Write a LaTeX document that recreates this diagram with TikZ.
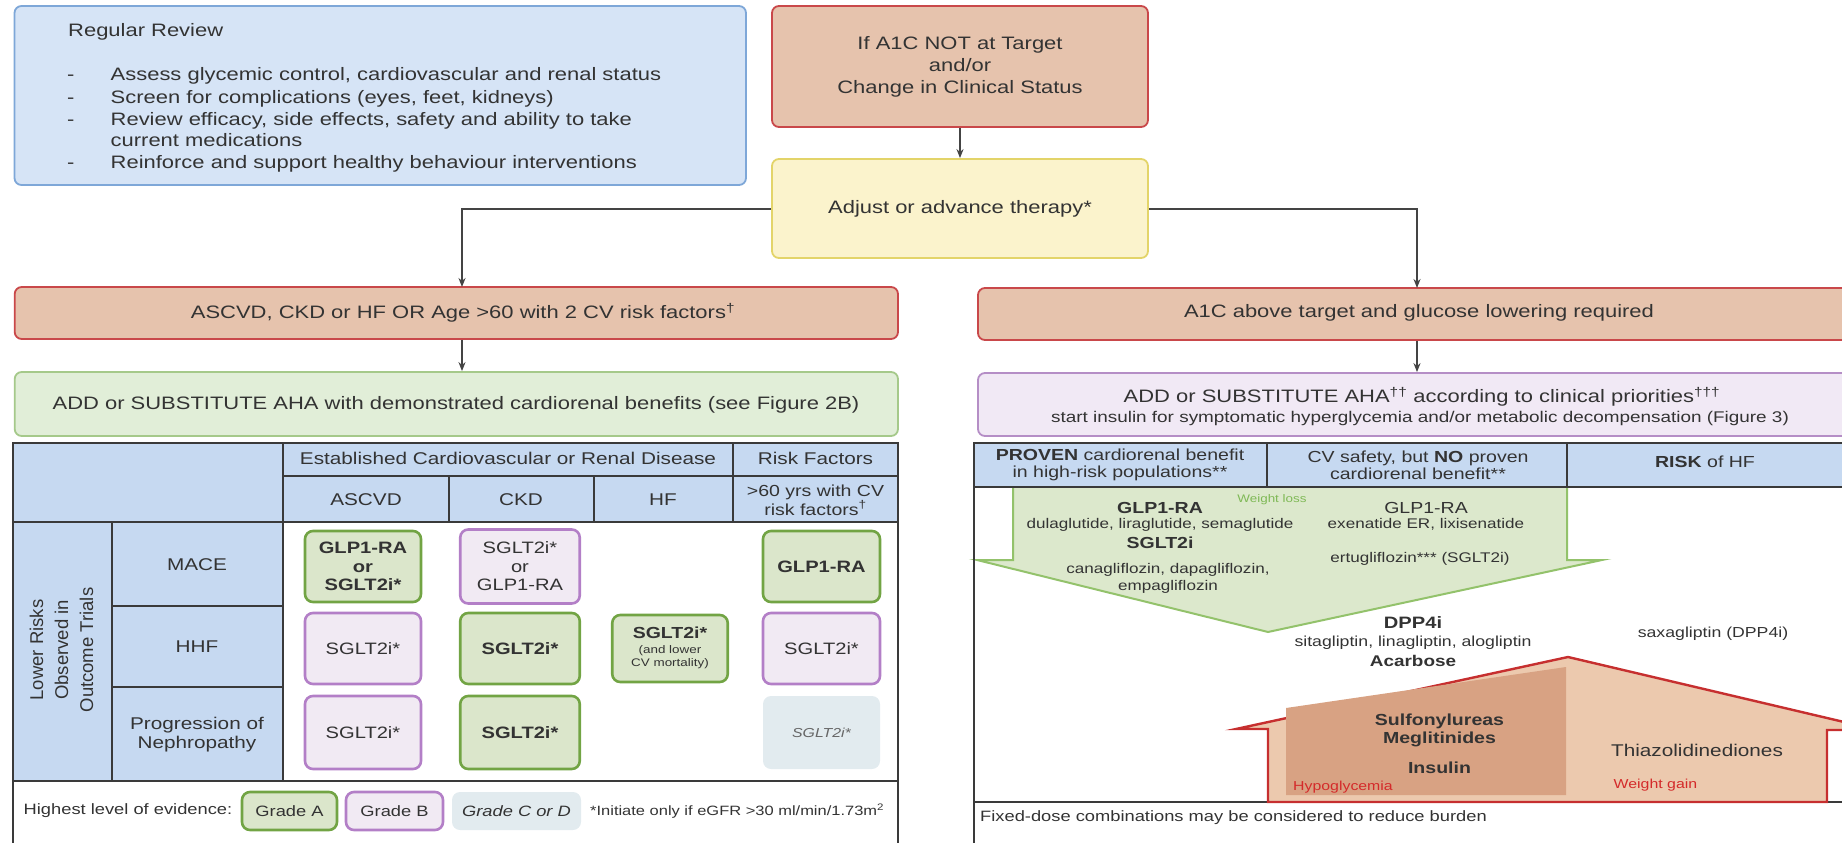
\documentclass[tikz,border=0pt]{standalone}
\usepackage{fontspec}
\setmainfont{Liberation Sans}[FakeStretch=1.22]
\newfontfamily\plainsans{Liberation Sans}
\usetikzlibrary{arrows.meta,calc}
\newcommand\myfs[2]{\fontsize{#1}{#2}\selectfont}
\definecolor{txt}{HTML}{333333}
\definecolor{bluefill}{HTML}{D6E4F6}
\definecolor{blueline}{HTML}{7EA7D8}
\definecolor{redfill}{HTML}{E6C3AD}
\definecolor{redline}{HTML}{C9484A}
\definecolor{yellowfill}{HTML}{FBF3CC}
\definecolor{yellowline}{HTML}{E3D469}
\definecolor{greenfill}{HTML}{E1EED8}
\definecolor{greenline}{HTML}{A5C98A}
\definecolor{purplefill}{HTML}{F1E9F5}
\definecolor{purpleline}{HTML}{B58EC6}
\definecolor{hdr}{HTML}{C6D9F1}
\definecolor{tablec}{HTML}{3A3A3A}
\definecolor{gAfill}{HTML}{DBE6CB}
\definecolor{gAline}{HTML}{72A444}
\definecolor{gBfill}{HTML}{F1EAF3}
\definecolor{gBline}{HTML}{B37FC7}
\definecolor{gCfill}{HTML}{E2EBEF}
\definecolor{arrfill}{HTML}{DCE8CC}
\definecolor{arrline}{HTML}{93C26B}
\definecolor{houseline}{HTML}{C62F2F}
\definecolor{housefill}{HTML}{ECC9AE}
\definecolor{housedark}{HTML}{D8A283}
\definecolor{redtext}{HTML}{D42A2A}
\definecolor{wlgreen}{HTML}{7FB956}
\definecolor{connc}{HTML}{444444}
\begin{document}
\begin{tikzpicture}[x=1pt,y=-1pt,
  font=\myfs{18}{22},
  every node/.style={inner sep=0pt, text=txt},
  box/.style={rounded corners=7pt, line width=1.8pt},
  bluebox/.style={box, fill=bluefill, draw=blueline},
  redbox/.style={box, fill=redfill, draw=redline},
  yellowbox/.style={box, fill=yellowfill, draw=yellowline},
  greenbox/.style={box, fill=greenfill, draw=greenline},
  purplebox/.style={box, fill=purplefill, draw=purpleline},
  conn/.style={line width=2pt, draw=connc},
  arr/.style={conn, -{Stealth[length=9pt,width=7pt]}},
  tline/.style={line width=2pt, draw=tablec},
  cell/.style={rounded corners=8pt, align=center, minimum height=71pt, font=\myfs{16.5}{18.5}},
  cA/.style={cell, fill=gAfill, draw=gAline, line width=2.6pt},
  cB/.style={cell, fill=gBfill, draw=gBline, line width=2.6pt},
  cC/.style={cell, fill=gCfill},
  small/.style={font=\myfs{14}{17}},
  item/.style={anchor=base west}
]
\useasboundingbox (0,0) rectangle (1842,843);
\clip (0,0) rectangle (1842,843);

% ---------- top-left review box
\node[bluebox, minimum width=731.5pt, minimum height=179pt] (rr) at (380.25,95.5) {};
\node[item] (rrt) at (68,36.5) {Regular Review};
\node[item] (b1) at (67,81) {-};
\node[item] (b2) at (67,103) {-};
\node[item] (b3) at (67,125) {-};
\node[item] (b4) at (67,168) {-};
\node[item] (i1) at (110.5,81) {Assess glycemic control, cardiovascular and renal status};
\node[item] (i2) at (110.5,103) {Screen for complications (eyes, feet, kidneys)};
\node[item] (i3) at (110.5,125) {Review efficacy, side effects, safety and ability to take};
\node[item] (i3b) at (110.5,146.5) {current medications};
\node[item] (i4) at (110.5,168) {Reinforce and support healthy behaviour interventions};

% ---------- flow boxes
\node[redbox, minimum width=376pt, minimum height=121pt, align=center] (a1c) at (960,66.5) {If A1C NOT at Target\\and/or\\Change in Clinical Status};
\node[yellowbox, minimum width=376pt, minimum height=99pt] (adj) at (960,208.5) {Adjust or advance therapy*};

\node[redbox, minimum width=883.3pt, minimum height=52pt] (ascvd) at (456.35,313) {};
\node (ascvdt) at (463,313) {ASCVD, CKD or HF OR Age >60 with 2 CV risk factors\textsuperscript{†}};
\node[greenbox, minimum width=883.3pt, minimum height=64pt] (grn) at (456.35,404) {};
\node (grnt) at (456,405) {ADD or SUBSTITUTE AHA with demonstrated cardiorenal benefits (see Figure 2B)};

\node[redbox, minimum width=902pt, minimum height=52pt] (a1cab) at (1429,314) {};
\node (a1cabt) at (1419,313) {A1C above target and glucose lowering required};
\node[purplebox, minimum width=902pt, minimum height=63pt] (purp) at (1429,404.5) {};
\node (purpt1) at (1422,397) {ADD or SUBSTITUTE AHA\textsuperscript{††} according to clinical priorities\textsuperscript{†††}};
\node[font=\myfs{15.5}{17}] (purpt2) at (1420,418) {start insulin for symptomatic hyperglycemia and/or metabolic decompensation (Figure 3)};

% ---------- connectors
\coordinate (lj) at (462,287);
\coordinate (rj) at (1417,288);
\draw[arr] (a1c.south) -- (adj.north);
\draw[arr] (adj.west) -| (lj);
\draw[arr] (adj.east) -| (rj);
\draw[arr] (ascvd.south -| lj) -- (grn.north -| lj);
\draw[arr] (a1cab.south -| rj) -- (purp.north -| rj);

% ---------- left table
\fill[hdr] (13,443) rectangle (898,522);
\fill[hdr] (13,522) rectangle (283,781);
\draw[tline] (13,443) rectangle (898,846);
\draw[tline] (283,443) -- (283,781);
\draw[tline] (733,443) -- (733,522);
\draw[tline] (283,476) -- (898,476);
\draw[tline] (449,476) -- (449,522);
\draw[tline] (594,476) -- (594,522);
\draw[tline] (13,522) -- (898,522);
\draw[tline] (111.5,522) -- (111.5,781);
\draw[tline] (111.5,606) -- (283,606);
\draw[tline] (111.5,687) -- (283,687);
\draw[tline] (13,781) -- (898,781);

\node[font=\myfs{17}{20}] (hEst) at (508,458) {Established Cardiovascular or Renal Disease};
\node[font=\myfs{17}{20}] (hRisk) at (815.5,458) {Risk Factors};
\node[font=\myfs{17}{20}] (hAS) at (366,500) {ASCVD};
\node[font=\myfs{17}{20}] (hCKD) at (521,500) {CKD};
\node[font=\myfs{17}{20}] (hHF) at (663,500) {HF};
\node[font=\myfs{16}{19}, align=center] (hRF) at (815.5,500) {>60 yrs with CV\\risk factors\textsuperscript{†}};
\node[font=\myfs{17}{20}] (rM) at (197,565) {MACE};
\node[font=\myfs{17}{20}] (rH) at (197,647) {HHF};
\node[font=\myfs{17}{19}, align=center] (rP) at (197,734.5) {Progression of\\Nephropathy};
\node[rotate=90, align=center, font=\plainsans\myfs{18.5}{25}] (vl) at (61.5,650) {Lower Risks\\Observed in\\Outcome Trials};

\node[cA, minimum width=116pt] (mA) at (363,566.5) {\bfseries GLP1-RA\\\bfseries or\\\bfseries SGLT2i*};
\node[cB, minimum width=119.5pt, minimum height=74pt] (mC) at (520,566.5) {SGLT2i*\\or\\GLP1-RA};
\node[cA, minimum width=117pt] (mR) at (821.5,566.5) {\bfseries GLP1-RA};
\node[cB, minimum width=116pt] (hA) at (363,648.5) {SGLT2i*};
\node[cA, minimum width=119.5pt] (hC) at (520,648.5) {\bfseries SGLT2i*};
\node[cA, minimum width=115.5pt, minimum height=67pt] (hH) at (670,648.5) {};
\node[font=\bfseries\myfs{16}{18}] (hHt1) at (670,633) {SGLT2i*};
\node[font=\myfs{11}{13}] (hHt2) at (670,651) {(and lower};
\node[font=\myfs{11}{13}] (hHt3) at (670,664) {CV mortality)};
\node[cB, minimum width=117pt] (hR) at (821.5,648.5) {SGLT2i*};
\node[cB, minimum width=116pt, minimum height=73pt] (pA) at (363,732.5) {SGLT2i*};
\node[cA, minimum width=119.5pt, minimum height=73pt] (pC) at (520,732.5) {\bfseries SGLT2i*};
\node[cC, minimum width=117pt, minimum height=73pt, font=\itshape\myfs{13}{15}, text=black!60] (pR) at (821.5,732.5) {SGLT2i*};

\node[anchor=west, font=\myfs{15}{18}] (lg) at (23.5,811) {Highest level of evidence:};
\node[cA, minimum width=95pt, minimum height=38pt, font=\myfs{15}{18}] (gA) at (289.5,811) {Grade A};
\node[cB, minimum width=97pt, minimum height=38pt, font=\myfs{15}{18}] (gB) at (394.5,811) {Grade B};
\node[cC, minimum width=129pt, minimum height=38pt, font=\itshape\myfs{15}{18}] (gC) at (516.5,811) {Grade C or D};
\node[anchor=west, font=\myfs{13.5}{16}] (note) at (590,811) {*Initiate only if eGFR >30 ml/min/1.73m\textsuperscript{2}};

% ---------- right table
\fill[hdr] (974,443) rectangle (1850,487);
\fill[arrfill] (1013,487) -- (1013,560) -- (977,560) -- (1268,632) -- (1602,560) -- (1567,560) -- (1567,487) -- cycle;
\draw[line width=2pt, draw=arrline, line join=miter] (1013,487) -- (1013,560) -- (977,560) -- (1268,632) -- (1602,560) -- (1567,560) -- (1567,487);
\draw[tline] (974,846) -- (974,443) -- (1850,443);
\draw[tline] (974,487) -- (1850,487);
\draw[tline] (1267,443) -- (1267,487);
\draw[tline] (1567,443) -- (1567,487);
\draw[tline] (974,802) -- (1850,802);

\node[align=center, font=\myfs{16}{17}] (hP) at (1120,465) {{\bfseries PROVEN} cardiorenal benefit\\in high-risk populations**};
\node[align=center, font=\myfs{16}{17}] (hCV) at (1418,465) {CV safety, but {\bfseries NO} proven\\cardiorenal benefit**};
\node[font=\myfs{16}{17}] (hRK) at (1705,462) {{\bfseries RISK} of HF};

\node[font=\bfseries\myfs{16}{18}] (g1) at (1160,507.5) {GLP1-RA};
\node[font=\myfs{11}{13}, text=wlgreen] (wl) at (1272,500) {Weight loss};
\node[small] (g1d) at (1160,524.5) {dulaglutide, liraglutide, semaglutide};
\node[font=\bfseries\myfs{16}{18}] (s1) at (1160,543) {SGLT2i};
\node[small, align=center] (s1d) at (1168,578.5) {canagliflozin, dapagliflozin,\\empagliflozin};
\node[font=\myfs{16}{18}] (g2) at (1426,507.5) {GLP1-RA};
\node[small] (g2d) at (1426,524.5) {exenatide ER, lixisenatide};
\node[small] (e2) at (1420,558.6) {ertugliflozin*** (SGLT2i)};
\node[font=\bfseries\myfs{16.5}{18}] (dpp) at (1413,623) {DPP4i};
\node[font=\myfs{14.5}{17}] (dppd) at (1413,643) {sitagliptin, linagliptin, alogliptin};
\node[font=\bfseries\myfs{15.5}{18}] (aca) at (1413,661) {Acarbose};
\node[font=\myfs{14.5}{17}] (sax) at (1713,634) {saxagliptin (DPP4i)};

% ---------- house
\filldraw[fill=housefill, draw=houseline, line width=2.4pt, line join=miter] (1236,729) -- (1568,657) -- (1878,730) -- (1827,730) -- (1827,802) -- (1268,802) -- (1268,729) -- cycle;
\fill[housedark] (1286,708) -- (1566,667) -- (1566,795) -- (1286,795) -- cycle;
\node[font=\bfseries\myfs{16}{18}] (su) at (1439.5,721.7) {Sulfonylureas};
\node[font=\bfseries\myfs{16}{18}] (me) at (1439.5,739) {Meglitinides};
\node[font=\bfseries\myfs{16}{18}] (ins) at (1439.5,768) {Insulin};
\node[anchor=west, font=\myfs{13}{15}, text=redtext] (hy) at (1293,786.7) {Hypoglycemia};
\node[font=\myfs{17}{19}] (tz) at (1697,750) {Thiazolidinediones};
\node[anchor=west, font=\myfs{13}{15}, text=redtext] (wg) at (1613.5,785.6) {Weight gain};
\node[anchor=west, font=\myfs{15}{17}] (fd) at (980,818) {Fixed-dose combinations may be considered to reduce burden};
\end{tikzpicture}
\end{document}
